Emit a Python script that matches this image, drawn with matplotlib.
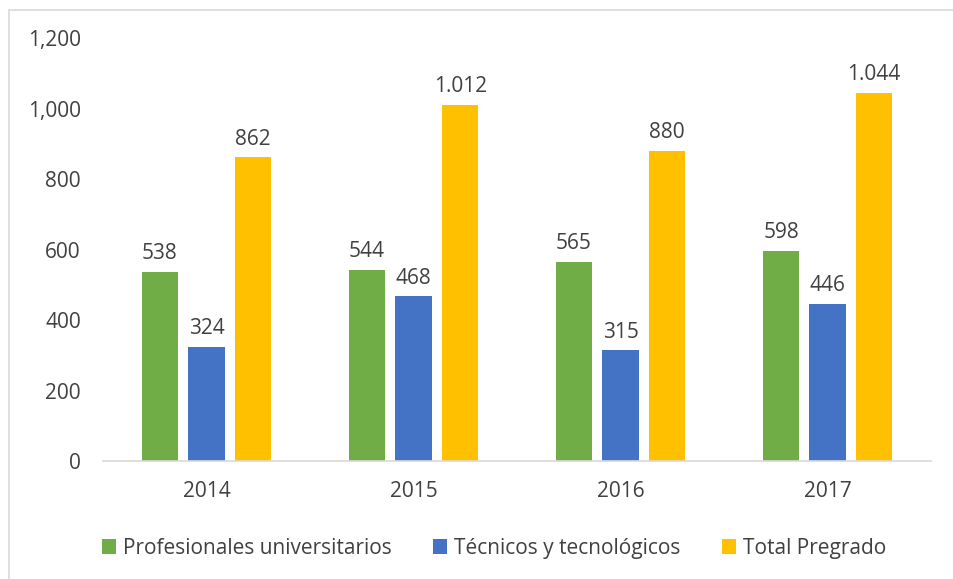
import numpy as np
import matplotlib.pyplot as plt
from matplotlib.ticker import FuncFormatter
from matplotlib.patches import Rectangle

years = ["2014", "2015", "2016", "2017"]
profesionales = [538, 544, 565, 598]
tecnicos = [324, 468, 315, 446]
total = [862, 1012, 880, 1044]
series_names = ["Profesionales universitarios", "Técnicos y tecnológicos", "Total Pregrado"]
colors = ["#70AD47", "#4472C4", "#FFC000"]

plt.rcParams['font.family'] = ['Open Sans', 'DejaVu Sans']
text_col = "#404040"

fig = plt.figure(figsize=(9.54, 5.79), dpi=100)
ax = fig.add_axes([0.108, 0.203, 0.868, 0.731])

x = np.arange(len(years))
w = 0.175
step = 0.225
for i, (vals, col, name) in enumerate(zip([profesionales, tecnicos, total], colors, series_names)):
    pos = x + (i - 1) * step
    ax.bar(pos, vals, width=w, color=col, label=name, zorder=2)
    for p, v in zip(pos, vals):
        lbl = f"{v:,}".replace(",", ".")
        ax.text(p, v + 22, lbl, ha="center", va="bottom", fontsize=15, color=text_col)

ax.set_xlim(-0.5, len(years) - 0.5)
ax.set_ylim(0, 1200)
ax.set_yticks(range(0, 1201, 200))
ax.yaxis.set_major_formatter(FuncFormatter(lambda v, _: f"{int(v):,}"))
ax.set_xticks(x)
ax.set_xticklabels(years)
ax.tick_params(axis="both", length=0, labelsize=15, colors=text_col)
ax.tick_params(axis="y", pad=16)
ax.tick_params(axis="x", pad=14)
for s in ["top", "right", "left"]:
    ax.spines[s].set_visible(False)
ax.spines["bottom"].set_color("#D9D9D9")
ax.spines["bottom"].set_linewidth(1.2)

leg = fig.legend(loc="lower center", bbox_to_anchor=(0.518, 0.003), ncol=3, frameon=False,
                 fontsize=15, handlelength=0.65, handleheight=0.75, handletextpad=0.35,
                 columnspacing=2.0)
for t in leg.get_texts():
    t.set_color(text_col)

fig.patches.append(Rectangle((0.009, -0.01), 1.1, 0.993, transform=fig.transFigure,
                             fill=False, edgecolor="#D9D9D9", linewidth=1.2))

fig.savefig("out.png", dpi=100)
